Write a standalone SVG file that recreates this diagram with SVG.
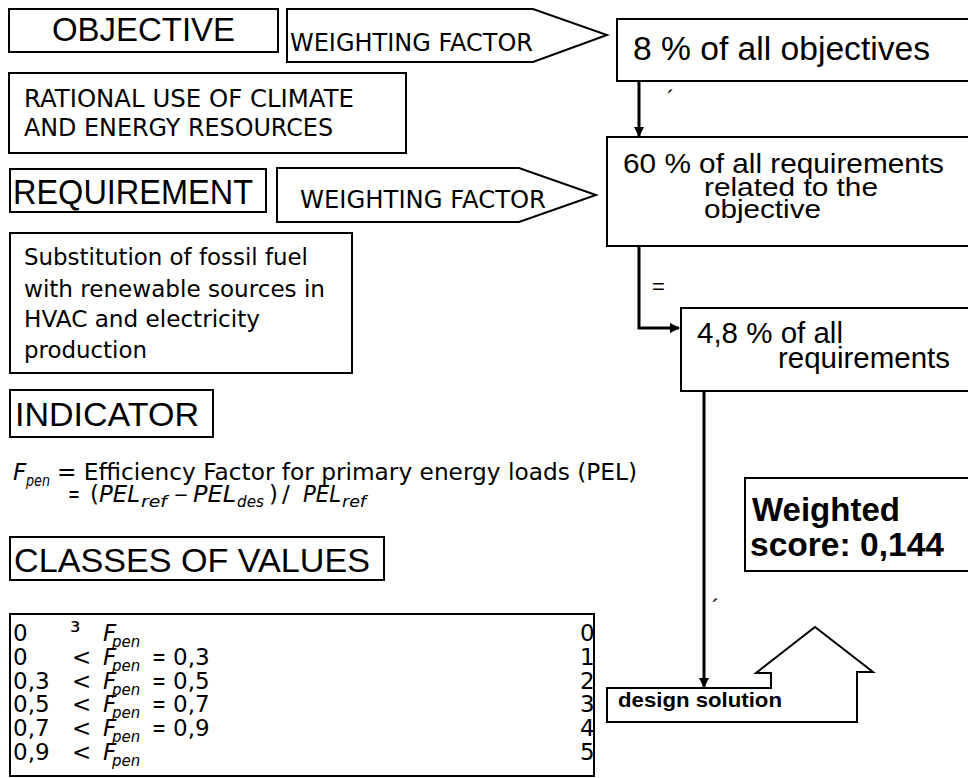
<svg xmlns="http://www.w3.org/2000/svg" width="968" height="778" viewBox="0 0 968 778">
  <style>
    .box { fill: #fff; stroke: #000; stroke-width: 2; }
    .arial { font-family: "Liberation Sans", Arial, sans-serif; fill: #000; }
    .taho { font-family: "DejaVu Sans", "Liberation Sans", sans-serif; fill: #000; }
    .bold { font-family: "Liberation Sans", Arial, sans-serif; font-weight: bold; fill: #000; }
    .it { font-style: italic; }
    .conn { fill: none; stroke: #000; stroke-width: 3; }
  </style>
  <defs>
    <marker id="head" viewBox="0 0 10 10" refX="9" refY="5" markerWidth="3.4" markerHeight="3.4" orient="auto" markerUnits="strokeWidth">
      <path d="M0,0 L10,5 L0,10 Z" fill="#000"/>
    </marker>
  </defs>
  <rect width="968" height="778" fill="#fff"/>

  <!-- objective level -->
  <g id="objective-title">
    <rect class="box" x="9" y="9" width="269" height="43"/>
    <text class="arial" x="52" y="41" font-size="33" textLength="183" lengthAdjust="spacingAndGlyphs">OBJECTIVE</text>
  </g>
  <g id="objective-weight">
    <polygon class="box" points="287,9 533,9 607,35 533,62 287,62"/>
    <text class="taho" x="290" y="51" font-size="24" textLength="243" lengthAdjust="spacingAndGlyphs">WEIGHTING FACTOR</text>
  </g>
  <g id="objective-share">
    <rect class="box" x="617" y="19" width="360" height="62"/>
    <text class="arial" x="633" y="60" font-size="33" textLength="297" lengthAdjust="spacingAndGlyphs">8 % of all objectives</text>
  </g>
  <g id="objective-name">
    <rect class="box" x="9" y="73" width="397" height="80"/>
    <text class="taho" x="24" y="107" font-size="24" textLength="330" lengthAdjust="spacingAndGlyphs">RATIONAL USE OF CLIMATE</text>
    <text class="taho" x="24" y="136" font-size="24" textLength="309" lengthAdjust="spacingAndGlyphs">AND ENERGY RESOURCES</text>
  </g>

  <!-- requirement level -->
  <g id="requirement-title">
    <rect class="box" x="10" y="169" width="256" height="43"/>
    <text class="arial" x="13" y="204" font-size="35" textLength="240" lengthAdjust="spacingAndGlyphs">REQUIREMENT</text>
  </g>
  <g id="requirement-weight">
    <polygon class="box" points="277,168 519,168 596,195 519,222 277,222"/>
    <text class="taho" x="300" y="208" font-size="24" textLength="246" lengthAdjust="spacingAndGlyphs">WEIGHTING FACTOR</text>
  </g>
  <g id="requirement-share">
    <rect class="box" x="607" y="137" width="370" height="109"/>
    <text class="arial" x="623" y="173" font-size="28" textLength="321" lengthAdjust="spacingAndGlyphs">60 % of all requirements</text>
    <text class="arial" x="704" y="196" font-size="26" textLength="174" lengthAdjust="spacingAndGlyphs">related to the</text>
    <text class="arial" x="704" y="218" font-size="26" textLength="117" lengthAdjust="spacingAndGlyphs">objective</text>
  </g>
  <g id="requirement-name">
    <rect class="box" x="10" y="233" width="342" height="140"/>
    <text class="taho" x="24" y="265" font-size="23" textLength="284" lengthAdjust="spacingAndGlyphs">Substitution of fossil fuel</text>
    <text class="taho" x="24" y="297" font-size="23" textLength="301" lengthAdjust="spacingAndGlyphs">with renewable sources in</text>
    <text class="taho" x="24" y="327" font-size="23" textLength="236" lengthAdjust="spacingAndGlyphs">HVAC and electricity</text>
    <text class="taho" x="24" y="358" font-size="23" textLength="123" lengthAdjust="spacingAndGlyphs">production</text>
  </g>
  <g id="overall-share">
    <rect class="box" x="681" y="308" width="300" height="83"/>
    <text class="arial" x="697" y="343" font-size="29" textLength="146" lengthAdjust="spacingAndGlyphs">4,8 % of all</text>
    <text class="arial" x="778" y="368" font-size="29" textLength="172" lengthAdjust="spacingAndGlyphs">requirements</text>
  </g>

  <!-- indicator -->
  <g id="indicator-title">
    <rect class="box" x="10" y="390" width="203" height="47"/>
    <text class="arial" x="15" y="426" font-size="34" textLength="184" lengthAdjust="spacingAndGlyphs">INDICATOR</text>
  </g>
  <g id="indicator-formula">
    <text class="taho it" x="13" y="480" font-size="23">F</text>
    <text class="taho it" x="26" y="486" font-size="15" textLength="24" lengthAdjust="spacingAndGlyphs">pen</text>
    <text class="taho" x="57" y="480" font-size="23" textLength="580" lengthAdjust="spacingAndGlyphs">= Efficiency Factor for primary energy loads (PEL)</text>
    <text class="taho" x="68" y="502" font-size="23" textLength="12" lengthAdjust="spacingAndGlyphs">=</text>
    <text class="taho" x="90" y="502" font-size="23">(</text>
    <text class="taho it" x="99" y="502" font-size="23" textLength="41" lengthAdjust="spacingAndGlyphs">PEL</text>
    <text class="taho it" x="141" y="507" font-size="15" textLength="26" lengthAdjust="spacingAndGlyphs">ref</text>
    <text class="taho" x="174" y="502" font-size="23" textLength="14" lengthAdjust="spacingAndGlyphs">–</text>
    <text class="taho it" x="193" y="502" font-size="23" textLength="43" lengthAdjust="spacingAndGlyphs">PEL</text>
    <text class="taho it" x="237" y="507" font-size="15" textLength="27" lengthAdjust="spacingAndGlyphs">des</text>
    <text class="taho" x="269" y="502" font-size="23">)</text>
    <text class="taho" x="282" y="502" font-size="23">/</text>
    <text class="taho it" x="303" y="502" font-size="23" textLength="38" lengthAdjust="spacingAndGlyphs">PEL</text>
    <text class="taho it" x="342" y="507" font-size="15" textLength="24" lengthAdjust="spacingAndGlyphs">ref</text>
  </g>

  <!-- classes of values -->
  <g id="classes-title">
    <rect class="box" x="10" y="537" width="374" height="43"/>
    <text class="arial" x="14" y="572" font-size="34" textLength="356" lengthAdjust="spacingAndGlyphs">CLASSES OF VALUES</text>
  </g>
  <g id="classes-table" class="taho" font-size="23">
    <rect class="box" x="10" y="614" width="584" height="162"/>
    <text x="13" y="641">0</text>
    <text x="70" y="641" font-size="26">³</text>
    <text class="it" x="103" y="641">F</text>
    <text class="it" x="112" y="647" font-size="15">pen</text>
    <text x="580" y="641">0</text>

    <text x="13" y="665">0</text>
    <text x="72" y="665">&lt;</text>
    <text class="it" x="103" y="665">F</text>
    <text class="it" x="112" y="671" font-size="15">pen</text>
    <text x="152" y="665" textLength="14" lengthAdjust="spacingAndGlyphs">=</text>
    <text x="173" y="665">0,3</text>
    <text x="580" y="665">1</text>

    <text x="13" y="689">0,3</text>
    <text x="72" y="689">&lt;</text>
    <text class="it" x="103" y="689">F</text>
    <text class="it" x="112" y="695" font-size="15">pen</text>
    <text x="152" y="689" textLength="14" lengthAdjust="spacingAndGlyphs">=</text>
    <text x="173" y="689">0,5</text>
    <text x="580" y="689">2</text>

    <text x="13" y="712">0,5</text>
    <text x="72" y="712">&lt;</text>
    <text class="it" x="103" y="712">F</text>
    <text class="it" x="112" y="718" font-size="15">pen</text>
    <text x="152" y="712" textLength="14" lengthAdjust="spacingAndGlyphs">=</text>
    <text x="173" y="712">0,7</text>
    <text x="580" y="712">3</text>

    <text x="13" y="736">0,7</text>
    <text x="72" y="736">&lt;</text>
    <text class="it" x="103" y="736">F</text>
    <text class="it" x="112" y="742" font-size="15">pen</text>
    <text x="152" y="736" textLength="14" lengthAdjust="spacingAndGlyphs">=</text>
    <text x="173" y="736">0,9</text>
    <text x="580" y="736">4</text>

    <text x="13" y="760">0,9</text>
    <text x="72" y="760">&lt;</text>
    <text class="it" x="103" y="760">F</text>
    <text class="it" x="112" y="766" font-size="15">pen</text>
    <text x="580" y="760">5</text>
  </g>

  <!-- result -->
  <g id="weighted-score">
    <rect class="box" x="745" y="478" width="230" height="93"/>
    <text class="bold" x="752" y="521" font-size="33">Weighted</text>
    <text class="bold" x="750" y="556" font-size="33" textLength="194" lengthAdjust="spacingAndGlyphs">score: 0,144</text>
  </g>
  <g id="design-solution">
    <path class="box" d="M607,722 V688 H771 V673 H756 L815,627 L873,672 H857 V722 Z"/>
    <text class="bold" x="618" y="707" font-size="21" textLength="164" lengthAdjust="spacingAndGlyphs">design solution</text>
  </g>

  <!-- connectors -->
  <g id="connectors">
    <line class="conn" x1="639" y1="81" x2="639" y2="136" marker-end="url(#head)"/>
    <polyline class="conn" points="639,246 639,328 679,328" marker-end="url(#head)"/>
    <line class="conn" x1="704" y1="391" x2="704" y2="687" marker-end="url(#head)"/>
    <text class="arial" x="667" y="106" font-size="22">´</text>
    <text class="arial" x="652" y="294" font-size="22">=</text>
    <text class="arial" x="712" y="615" font-size="22">´</text>
  </g>
</svg>
